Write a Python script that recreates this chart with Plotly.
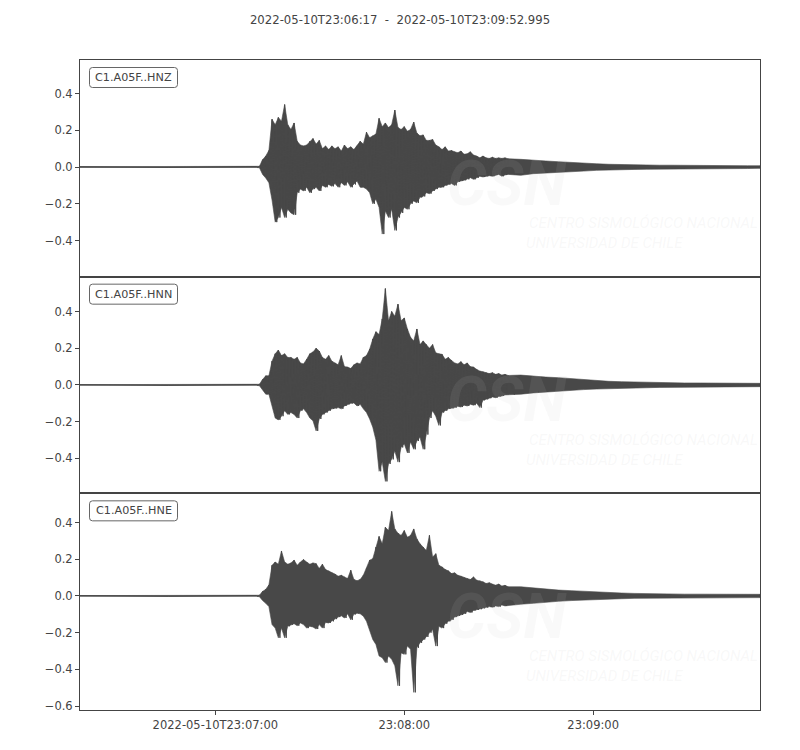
import datetime as dt
import plotly.graph_objects as go
from plotly.subplots import make_subplots

START = dt.datetime(2022, 5, 10, 23, 6, 17)
END = START + dt.timedelta(seconds=215.995)
TITLE = "2022-05-10T23:06:17  -  2022-05-10T23:09:52.995"
CHANNELS = ["C1.A05F..HNZ", "C1.A05F..HNN", "C1.A05F..HNE"]

# seconds after START at which the envelope was read
T_SEC = [0, 56, 57] + list(range(58, 137)) + list(range(140, 217, 4))

HNZ_UP = [0.002, 0.002, 0.004,
          0.04, 0.06, 0.09, 0.26, 0.23, 0.27, 0.25, 0.34, 0.23, 0.205, 0.24, 0.14,
          0.12, 0.115, 0.12, 0.14, 0.155, 0.125, 0.145, 0.10, 0.115, 0.095,
          0.115, 0.10, 0.11, 0.087, 0.12, 0.10, 0.11, 0.095, 0.115, 0.14,
          0.125, 0.19, 0.16, 0.17, 0.18, 0.265, 0.22, 0.24, 0.215, 0.23,
          0.31, 0.215, 0.205, 0.22, 0.195, 0.205, 0.245, 0.185, 0.17, 0.175,
          0.145, 0.145, 0.15, 0.12, 0.11, 0.095, 0.11, 0.087, 0.09, 0.083,
          0.078, 0.087, 0.07, 0.072, 0.083, 0.065, 0.06, 0.05, 0.06, 0.05,
          0.047, 0.054, 0.047, 0.05, 0.047, 0.05, 0.045,
          0.042, 0.036, 0.033, 0.029, 0.024, 0.022, 0.018, 0.015, 0.013, 0.011,
          0.011, 0.010, 0.010, 0.009, 0.009, 0.008, 0.008, 0.008, 0.007, 0.007]
HNZ_LO = [-0.002, -0.002, -0.004,
          -0.04, -0.06, -0.085, -0.18, -0.30, -0.275, -0.22, -0.275, -0.23, -0.25, -0.26, -0.14,
          -0.12, -0.13, -0.11, -0.14, -0.12, -0.11, -0.13, -0.10, -0.11, -0.095,
          -0.105, -0.09, -0.11, -0.085, -0.10, -0.08, -0.11, -0.095, -0.076, -0.11,
          -0.11, -0.12, -0.14, -0.20, -0.175, -0.22, -0.365, -0.24, -0.275, -0.23,
          -0.345, -0.275, -0.25, -0.22, -0.23, -0.20, -0.185, -0.195, -0.165, -0.16,
          -0.14, -0.145, -0.13, -0.12, -0.11, -0.11, -0.10, -0.095, -0.09, -0.10,
          -0.08, -0.076, -0.072, -0.067, -0.058, -0.067, -0.058, -0.05, -0.054, -0.05,
          -0.047, -0.05, -0.043, -0.04, -0.05, -0.043, -0.04,
          -0.045, -0.036, -0.033, -0.029, -0.025, -0.022, -0.018, -0.016, -0.014, -0.013,
          -0.012, -0.011, -0.010, -0.010, -0.009, -0.009, -0.008, -0.008, -0.008, -0.007]

HNN_UP = [0.002, 0.002, 0.004,
          0.03, 0.05, 0.05, 0.13, 0.17, 0.19, 0.16, 0.17, 0.15, 0.15, 0.14, 0.15,
          0.12, 0.115, 0.14, 0.17, 0.18, 0.20, 0.185, 0.15, 0.14, 0.16,
          0.13, 0.12, 0.11, 0.16, 0.10, 0.098, 0.09, 0.11, 0.12, 0.115,
          0.15, 0.16, 0.195, 0.25, 0.29, 0.275, 0.36, 0.525, 0.35, 0.40,
          0.375, 0.44, 0.35, 0.365, 0.305, 0.26, 0.24, 0.305, 0.22, 0.24,
          0.22, 0.20, 0.22, 0.175, 0.17, 0.167, 0.14, 0.15, 0.134, 0.12,
          0.115, 0.127, 0.11, 0.12, 0.10, 0.098, 0.085, 0.076, 0.072, 0.067,
          0.062, 0.067, 0.058, 0.062, 0.054, 0.058, 0.052,
          0.054, 0.047, 0.043, 0.040, 0.034, 0.029, 0.024, 0.020, 0.018, 0.016,
          0.014, 0.013, 0.012, 0.011, 0.011, 0.010, 0.010, 0.010, 0.009, 0.009]
HNN_LO = [-0.002, -0.002, -0.004,
          -0.03, -0.05, -0.05, -0.12, -0.18, -0.19, -0.17, -0.14, -0.16, -0.15, -0.16, -0.18,
          -0.14, -0.13, -0.15, -0.18, -0.195, -0.25, -0.185, -0.16, -0.15, -0.14,
          -0.13, -0.127, -0.123, -0.13, -0.114, -0.105, -0.10, -0.098, -0.114, -0.105,
          -0.13, -0.15, -0.185, -0.23, -0.30, -0.47, -0.42, -0.525, -0.43, -0.405,
          -0.36, -0.42, -0.34, -0.32, -0.37, -0.31, -0.35, -0.305, -0.285, -0.35,
          -0.27, -0.18, -0.14, -0.17, -0.22, -0.15, -0.14, -0.13, -0.127, -0.123,
          -0.116, -0.12, -0.11, -0.114, -0.105, -0.11, -0.10, -0.123, -0.083, -0.078,
          -0.072, -0.065, -0.069, -0.062, -0.06, -0.054, -0.054,
          -0.05, -0.043, -0.036, -0.033, -0.029, -0.025, -0.022, -0.020, -0.018, -0.016,
          -0.015, -0.013, -0.012, -0.011, -0.011, -0.010, -0.010, -0.010, -0.009, -0.009]

HNE_UP = [0.002, 0.002, 0.004,
          0.025, 0.036, 0.06, 0.167, 0.185, 0.173, 0.245, 0.185, 0.173, 0.18, 0.195, 0.167,
          0.185, 0.198, 0.185, 0.173, 0.18, 0.176, 0.15, 0.173, 0.144, 0.137,
          0.126, 0.119, 0.108, 0.113, 0.104, 0.095, 0.14, 0.09, 0.083, 0.09,
          0.113, 0.15, 0.195, 0.203, 0.266, 0.324, 0.284, 0.374, 0.356, 0.46,
          0.365, 0.342, 0.33, 0.356, 0.32, 0.33, 0.365, 0.311, 0.284, 0.266,
          0.248, 0.33, 0.212, 0.23, 0.167, 0.158, 0.144, 0.137, 0.122, 0.126,
          0.113, 0.108, 0.10, 0.095, 0.09, 0.104, 0.086, 0.083, 0.077, 0.068,
          0.072, 0.065, 0.059, 0.065, 0.054, 0.058, 0.05,
          0.05, 0.043, 0.036, 0.032, 0.029, 0.025, 0.022, 0.018, 0.016, 0.014,
          0.012, 0.011, 0.011, 0.010, 0.010, 0.010, 0.010, 0.010, 0.009, 0.009]
HNE_LO = [-0.002, -0.002, -0.004,
          -0.025, -0.04, -0.058, -0.156, -0.175, -0.228, -0.175, -0.228, -0.165, -0.156, -0.151, -0.162,
          -0.147, -0.156, -0.175, -0.165, -0.169, -0.18, -0.156, -0.175, -0.144, -0.147,
          -0.138, -0.126, -0.115, -0.108, -0.12, -0.097, -0.13, -0.10, -0.094, -0.097,
          -0.11, -0.138, -0.19, -0.237, -0.264, -0.327, -0.336, -0.363, -0.327, -0.345,
          -0.38, -0.489, -0.31, -0.318, -0.273, -0.29, -0.525, -0.282, -0.255, -0.237,
          -0.223, -0.20, -0.183, -0.273, -0.165, -0.175, -0.151, -0.138, -0.13, -0.115,
          -0.108, -0.103, -0.097, -0.085, -0.09, -0.079, -0.076, -0.072, -0.067, -0.063,
          -0.058, -0.061, -0.054, -0.058, -0.049, -0.054, -0.049,
          -0.045, -0.04, -0.036, -0.029, -0.025, -0.022, -0.020, -0.017, -0.015, -0.013,
          -0.012, -0.011, -0.011, -0.010, -0.010, -0.010, -0.010, -0.010, -0.009, -0.009]

Y_RANGES = [[-0.597, 0.583], [-0.59, 0.59], [-0.621, 0.559]]
Y_TICKS = [[-0.4, -0.2, 0.0, 0.2, 0.4], [-0.4, -0.2, 0.0, 0.2, 0.4],
           [-0.6, -0.4, -0.2, 0.0, 0.2, 0.4]]
X_TICKS = [dt.datetime(2022, 5, 10, 23, 7, 0), dt.datetime(2022, 5, 10, 23, 8, 0),
           dt.datetime(2022, 5, 10, 23, 9, 0)]
X_TICK_TEXT = ["2022-05-10T23:07:00", "23:08:00", "23:09:00"]

UPPERS = [HNZ_UP, HNN_UP, HNE_UP]
LOWERS = [HNZ_LO, HNN_LO, HNE_LO]

WAVE = "#484848"
AXC = "#444444"
FONT = "DejaVu Sans"
TAIL_FROM = 136  # seconds: from here on the trace is drawn as a filled band

times = [START + dt.timedelta(seconds=s) for s in T_SEC]
times[-1] = END

fig = make_subplots(rows=3, cols=1, shared_xaxes=True, vertical_spacing=0)

for i in range(3):
    up, lo = UPPERS[i], LOWERS[i]
    k0 = T_SEC.index(TAIL_FROM)
    # solid body of the record (envelope band)
    bx = times + times[::-1]
    by = up + lo[::-1]
    fig.add_trace(go.Scatter(x=bx, y=by, mode="lines", fill="toself",
                             fillcolor=WAVE, line=dict(color=WAVE, width=0.6),
                             hoverinfo="skip", showlegend=False), row=i + 1, col=1)
    # oscillating trace on top: each read peak followed by the read trough
    zx, zy = [], []
    for k in range(k0 + 1):
        zx.append(times[k])
        zy.append(up[k])
        if k + 1 < len(times):
            zx.append(times[k] + (times[k + 1] - times[k]) / 2)
            zy.append(lo[k])
    fig.add_trace(go.Scatter(x=zx, y=zy, mode="lines",
                             line=dict(color=WAVE, width=1.0),
                             hoverinfo="skip", showlegend=False), row=i + 1, col=1)

for i in range(3):
    fig.update_yaxes(range=Y_RANGES[i], tickvals=Y_TICKS[i],
                     ticktext=[("\u2212" if v < 0 else "") + f"{abs(v):.1f}" for v in Y_TICKS[i]],
                     showline=True, mirror=True, linecolor=AXC, linewidth=1,
                     ticks="outside", ticklen=4, tickcolor=AXC, showgrid=False,
                     zeroline=False, tickfont=dict(family=FONT, size=11.5, color=AXC),
                     row=i + 1, col=1)
    fig.update_xaxes(range=[START, END], showline=True, mirror=True, linecolor=AXC,
                     linewidth=1, showgrid=False, zeroline=False,
                     tickvals=X_TICKS, ticktext=X_TICK_TEXT,
                     ticks="outside" if i == 2 else "", ticklen=4, tickcolor=AXC,
                     showticklabels=(i == 2),
                     tickfont=dict(family=FONT, size=11.5, color=AXC),
                     row=i + 1, col=1)

W, H = 800, 750
OFF = 8  # page body margin
PL, PR, PT, PB = 80, 760, 60, 710  # plot area on the page
L, T = PL - OFF, PT - OFF
R = W + OFF - PR
B = H + OFF - PB
ph = (PB - PT) / 3.0
pw = PR - PL

shapes = []
annotations = []
for i in range(3):
    cy = 77.5 + i * ph
    cx = 133.5
    px = (cx - PL) / pw
    py = 1 - (cy - PT) / (PB - PT)
    shapes.append(dict(type="path", xref="paper", yref="paper",
                       xsizemode="pixel", ysizemode="pixel",
                       xanchor=px, yanchor=py,
                       path="M -41,-10 L 41,-10 Q 44,-10 44,-7 L 44,7 Q 44,10 41,10 "
                            "L -41,10 Q -44,10 -44,7 L -44,-7 Q -44,-10 -41,-10 Z",
                       line=dict(color="#666666", width=1), fillcolor="white",
                       layer="above"))
    annotations.append(dict(text=CHANNELS[i], xref="paper", yref="paper", x=px, y=py,
                            xanchor="center", yanchor="middle", showarrow=False,
                            font=dict(family=FONT, size=11.2, color=AXC)))
    # faint watermark
    yref = "y domain" if i == 0 else f"y{i + 1} domain"
    xref = "x domain" if i == 0 else f"x{i + 1} domain"
    annotations.append(dict(text="<b><i>CSN</i></b>", xref=xref, yref=yref,
                            x=(507 - PL) / pw, y=1 - (183 - PT) / ph,
                            showarrow=False, xanchor="center", yanchor="middle",
                            font=dict(family="Roboto", size=62, color="rgba(200,200,200,0.10)")))
    annotations.append(dict(text="<i>CENTRO SISMOLÓGICO NACIONAL</i>", xref=xref, yref=yref,
                            x=(643 - PL) / pw, y=1 - (223 - PT) / ph,
                            showarrow=False, xanchor="center", yanchor="middle",
                            font=dict(family="Roboto", size=15, color="rgba(200,200,200,0.13)")))
    annotations.append(dict(text="<i>UNIVERSIDAD DE CHILE</i>", xref=xref, yref=yref,
                            x=(604 - PL) / pw, y=1 - (243 - PT) / ph,
                            showarrow=False, xanchor="center", yanchor="middle",
                            font=dict(family="Roboto", size=15, color="rgba(200,200,200,0.13)")))

fig.update_layout(width=W, height=H, margin=dict(l=L, r=R, t=T, b=B),
                  paper_bgcolor="white", plot_bgcolor="white",
                  title=dict(text=TITLE, x=(400 - OFF) / W, xanchor="center",
                             y=1 - (20 - OFF) / H, yanchor="middle",
                             font=dict(family=FONT, size=11.7, color=AXC)),
                  shapes=shapes, annotations=annotations, showlegend=False)

fig.write_html("out.html")
